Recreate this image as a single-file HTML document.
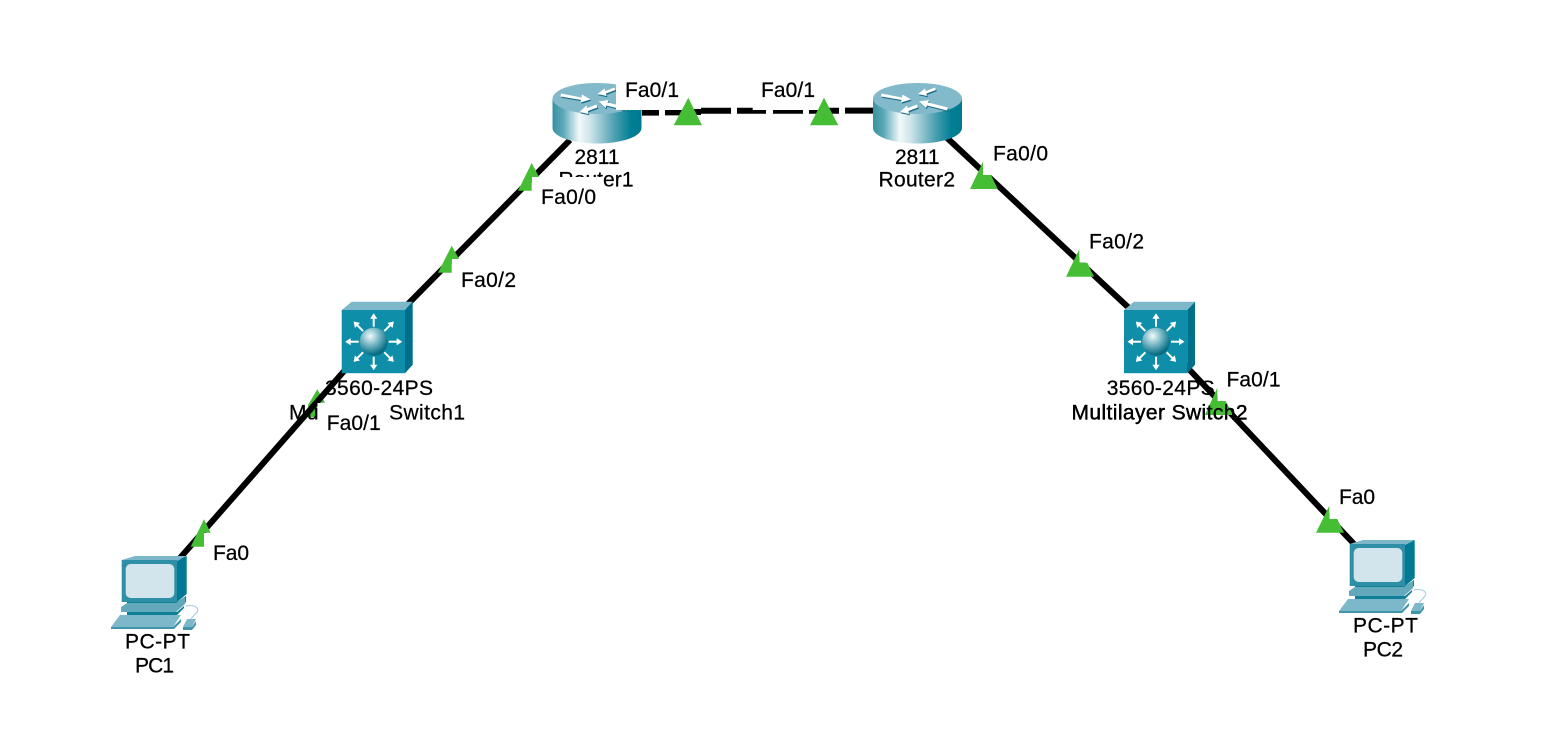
<!DOCTYPE html>
<html>
<head>
<meta charset="utf-8">
<style>
html,body{margin:0;padding:0;background:#fff;width:1546px;height:742px;overflow:hidden}
svg{display:block}
text{font-family:"Liberation Sans",Arial,sans-serif;font-size:21px;fill:#000;stroke:#000;stroke-width:.25px}
</style>
</head>
<body>
<svg width="1546" height="742" viewBox="0 0 1546 742" xmlns="http://www.w3.org/2000/svg">
<defs>
<linearGradient id="rb" x1="0" x2="1" y1="0" y2="0">
<stop offset="0" stop-color="#37929f"/>
<stop offset=".12" stop-color="#5ba8b8"/>
<stop offset=".3" stop-color="#f2f9fa"/>
<stop offset=".42" stop-color="#cfe5ea"/>
<stop offset=".7" stop-color="#4c9fb1"/>
<stop offset=".88" stop-color="#007f94"/>
<stop offset="1" stop-color="#00798f"/>
</linearGradient>
<radialGradient id="sp" cx=".38" cy=".3" r=".8">
<stop offset="0" stop-color="#f2fafb"/>
<stop offset=".4" stop-color="#79b8c6"/>
<stop offset=".8" stop-color="#0d7388"/>
<stop offset="1" stop-color="#06596c"/>
</radialGradient>
<g id="rarrows">
<path d="M8.5 10.5L29 14.5L29.5 11.5L38 16.5L28 19.5L28.5 17L8 13.5Z"/>
<path d="M62 4.5L53 8L52 5.5L45 11L54 13L53.5 10.5L63 7Z"/>
<path d="M44 21.5L35 25L34 22.5L27 29L36 31L35.5 28L45 24.5Z"/>
<path d="M75 24.5L55 19.5L56 17L46 18.5L53 25L54 22.5L74 27.5Z"/>
</g>
<g id="router">
<path d="M0 15.5V45A44.5 15.5 0 0 0 89 45V15.5Z" fill="url(#rb)"/>
<ellipse cx="44.5" cy="15.5" rx="44.5" ry="15.5" fill="#82b9cb"/>
<use href="#rarrows" fill="#16697f" transform="translate(.8,1.2)"/>
<use href="#rarrows" fill="#fff"/>
</g>
<g id="arrow">
<path d="M15 0H24" stroke="#fff" stroke-width="2"/>
<path d="M23 -3.6L28.5 0L23 3.6Z" fill="#fff"/>
</g>
<g id="switch">
<path d="M0 8.3L10 0H71L63.3 8.3Z" fill="#7db8ca"/>
<path d="M63.3 8.3L71 0V63L63.3 71.5Z" fill="#006f8a"/>
<rect x="0" y="8.3" width="63.3" height="63.2" fill="#0e8ea8"/>
<g transform="translate(32,40)">
<use href="#arrow"/>
<use href="#arrow" transform="rotate(45)"/>
<use href="#arrow" transform="rotate(90)"/>
<use href="#arrow" transform="rotate(135)"/>
<use href="#arrow" transform="rotate(180)"/>
<use href="#arrow" transform="rotate(225)"/>
<use href="#arrow" transform="rotate(270)"/>
<use href="#arrow" transform="rotate(315)"/>
<circle r="14" fill="url(#sp)"/>
</g>
</g>
<g id="pc">
<path d="M121.7 560L135 556H186.7L177 561Z" fill="#7db8ca"/>
<path d="M177 561L186.7 556V594L177 602Z" fill="#007a94"/>
<rect x="121.7" y="560" width="55.3" height="42" fill="#2f8fa6"/>
<rect x="125.7" y="564" width="48.6" height="34" rx="5" fill="#d2e4ec"/>
<path d="M127 602H177L186 596V602L177 610H127Z" fill="#0f7e98"/>
<path d="M121 607L127 603H176L185 597V604L176 612H121Z" fill="#63a9bb"/>
<path d="M127 612H177L184 606V608L177 615H127Z" fill="#0f7e98"/>
<path d="M120 615H181L173 627H111Z" fill="#7db8ca"/>
<path d="M111 627H173L181 619V622L174 629H111Z" fill="#3f96aa"/>
<path d="M183 627L187 619H196L192 627Z" fill="#7db8ca"/>
<path d="M183 627H192L196 621V625L192 630H183Z" fill="#3f96aa"/>
<path d="M186 606C194 604 200 608 197 612C195 615 192 617 191 619" fill="none" stroke="#a9d2dd" stroke-width="1.2"/>
</g>
</defs>

<rect width="1546" height="742" fill="#fff"/>

<polygon points="317.3,389.3 325,402.7 317.3,402.7 317.3,417 310,417 308,405" fill="#45bd35"/>

<g stroke="#000" stroke-width="6" fill="none">
<path d="M570 140L405 307"/>
<path d="M345 370L180 558"/>
<path d="M945 136L1130 309"/>
<path d="M1185 365L1355 545"/>
<path d="M642 112.6H659M665 112.4H680M680 112H701M701 110.8H731M737 110.7H766M773 110.8H803M809 110.8H839M845 110.6H875"/>
</g>

<use href="#router" x="552.5" y="83"/>
<use href="#router" x="873" y="83"/>
<use href="#switch" x="341.7" y="301.7"/>
<use href="#switch" x="1124" y="301.7"/>
<use href="#pc"/>
<use href="#pc" transform="translate(1228,-16)"/>

<text x="574.5" y="164" textLength="45" lengthAdjust="spacing">2811</text>
<text x="558.5" y="186.7" textLength="75" lengthAdjust="spacing">Router1</text>
<text x="895" y="164" textLength="44.5" lengthAdjust="spacing">2811</text>
<text x="878.5" y="186.7" textLength="76.5" lengthAdjust="spacing">Router2</text>
<text x="325" y="395" textLength="108" lengthAdjust="spacing">3560-24PS</text>
<text x="289" y="419.3" textLength="176" lengthAdjust="spacing">Multilayer Switch1</text>
<text x="1106.7" y="395" textLength="108" lengthAdjust="spacing">3560-24PS</text>
<text x="1071.5" y="419.3" textLength="176" lengthAdjust="spacing">Multilayer Switch2</text>
<text x="125" y="648.3" textLength="65" lengthAdjust="spacing">PC-PT</text>
<text x="135" y="672.7" textLength="39" lengthAdjust="spacing">PC1</text>
<text x="1353" y="632.7" textLength="65" lengthAdjust="spacing">PC-PT</text>
<text x="1363" y="656.7" textLength="40" lengthAdjust="spacing">PC2</text>

<g fill="#fff">
<rect x="616" y="70" width="70" height="40"/>
<rect x="752.7" y="70" width="70" height="40"/>
<rect x="531.7" y="177" width="72" height="40"/>
<rect x="451.7" y="259" width="70" height="40"/>
<rect x="317.5" y="403" width="70.5" height="40"/>
<rect x="204" y="533" width="50" height="40"/>
<rect x="983" y="134" width="70" height="41"/>
<rect x="1079.3" y="222" width="70" height="40.7"/>
<rect x="1217.3" y="361" width="70" height="40"/>
<rect x="1329.3" y="479" width="50" height="40"/>
</g>

<text x="625" y="97" textLength="54" lengthAdjust="spacing">Fa0/1</text>
<text x="761" y="97" textLength="54" lengthAdjust="spacing">Fa0/1</text>
<text x="541" y="204" textLength="55" lengthAdjust="spacing">Fa0/0</text>
<text x="461" y="287" textLength="55" lengthAdjust="spacing">Fa0/2</text>
<text x="326.7" y="430" textLength="54" lengthAdjust="spacing">Fa0/1</text>
<text x="213" y="560" textLength="36" lengthAdjust="spacing">Fa0</text>
<text x="993" y="160.7" textLength="55" lengthAdjust="spacing">Fa0/0</text>
<text x="1089" y="248.3" textLength="55" lengthAdjust="spacing">Fa0/2</text>
<text x="1226.5" y="386.7" textLength="54" lengthAdjust="spacing">Fa0/1</text>
<text x="1339" y="504" textLength="36" lengthAdjust="spacing">Fa0</text>

<g fill="#45bd35">
<polygon points="688.3,97.7 702,125.3 673.7,125.3"/>
<polygon points="824,97.7 838.3,125.3 810,125.3"/>
<polygon points="531.7,163 539,177 531.7,177 531.7,190.7 518,190.7"/>
<polygon points="451.7,245.7 459,259 451.7,259 451.7,272.7 438,272.7"/>
<polygon points="204,519.3 210.7,532.7 204,532.7 204,546.7 190.7,546.7"/>
<polygon points="983,161.7 983,175 991,175 997.7,189 970,189"/>
<polygon points="1079.3,249.3 1079.3,262.7 1087.3,262.7 1094,276.7 1066,276.7"/>
<polygon points="1217.3,387.7 1217.3,401 1225.7,401 1233,415 1205,415"/>
<polygon points="1329.3,505.7 1329.3,519 1337.3,519 1344,532.7 1316,532.7"/>
</g>
<text x="1071.5" y="419.3" textLength="176" lengthAdjust="spacing">Multilayer Switch2</text>
</svg>
</body>
</html>
